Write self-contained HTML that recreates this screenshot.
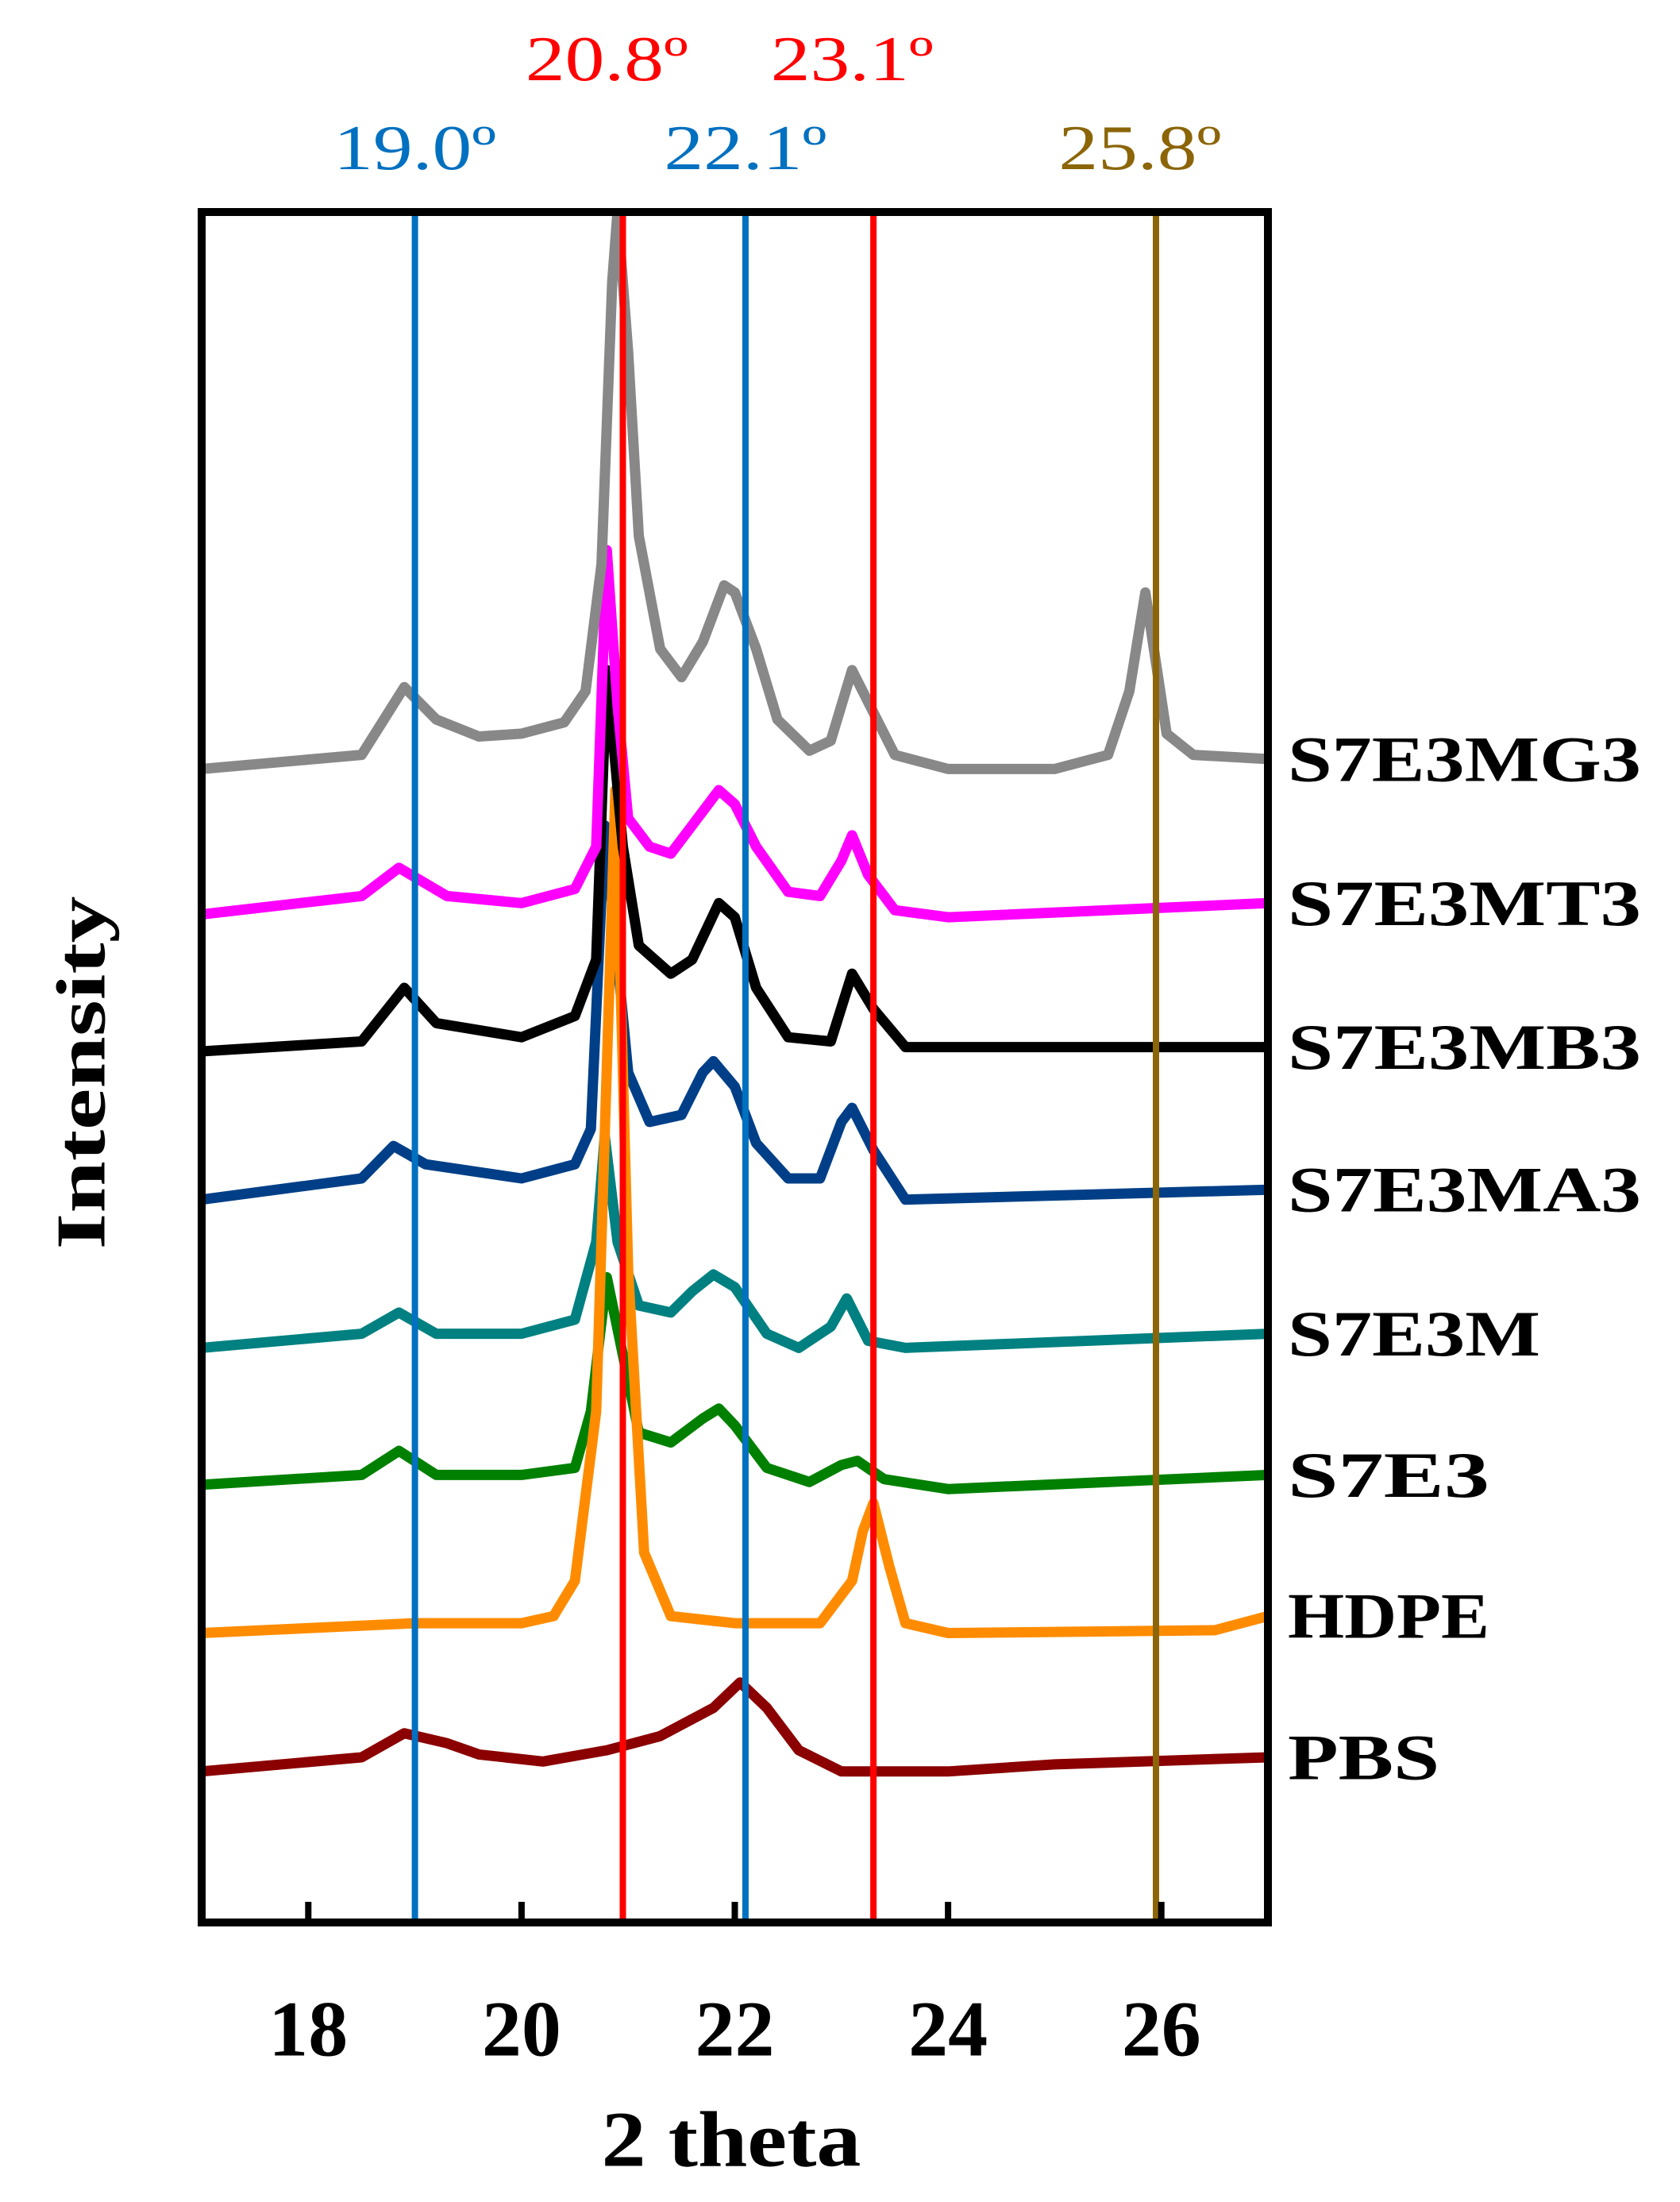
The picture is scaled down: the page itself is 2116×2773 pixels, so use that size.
<!DOCTYPE html>
<html><head><meta charset="utf-8"><style>
html,body{margin:0;padding:0;background:#fff;}
svg{display:block;}
svg text{font-family:"Liberation Serif","Times New Roman",serif;}
</style></head><body>
<svg id="chart" width="2116" height="2773" viewBox="0 0 2116 2773" xmlns="http://www.w3.org/2000/svg">
<defs><clipPath id="plotclip"><rect x="254" y="267" width="1343" height="2154"/></clipPath></defs>
<g id="series" clip-path="url(#plotclip)"></g>
<g id="refs"></g>
<rect x="254" y="267" width="1343" height="2154" fill="none" stroke="#000" stroke-width="10"/>
<g id="ticks"></g>
<g id="labels"></g>
<text x="921" y="2694" font-size="100" font-weight="bold" text-anchor="middle" dominant-baseline="central" textLength="327" lengthAdjust="spacingAndGlyphs">2 theta</text>
<text transform="translate(103,1351) rotate(-90)" font-size="88" font-weight="bold" text-anchor="middle" dominant-baseline="central" textLength="445" lengthAdjust="spacingAndGlyphs">Intensity</text>
</svg>
<script>
const NS='http://www.w3.org/2000/svg';
const xTicks=[18,20,22,24,26];
const refPositions=[19.0,20.95,22.1,23.3,25.95];
const refLabels=['19.0º','20.8º','22.1º','23.1º','25.8º'];
const refLabelPos=[19.0,20.8,22.1,23.1,25.8];
const refLabelRow=[1,0,1,0,1];
const refColors=['#0070c0','#ff0000','#0070c0','#ff0000','#8b6508'];

const pbsX=[17,18.5,18.9,19.3,19.6,20.2,20.8,21.3,21.8,22.05,22.3,22.6,23,24,25,27];
const pbsI=[107,117,134,127,119,114,122,132,152,170,152,122,107,107,112,117];
const hdpeX=[17,19,20,20.3,20.5,20.7,20.88,21.0,21.15,21.4,22,22.8,23.1,23.2,23.3,23.45,23.6,24,26.5,27];
const hdpeI=[205,212,212,217,242,362,802,462,262,217,212,212,242,277,297,252,212,205,207,217];
const s7e3X=[17,18.5,18.85,19.2,20,20.5,20.65,20.8,20.95,21.1,21.4,21.7,21.85,22.0,22.3,22.7,23.0,23.15,23.4,24,27];
const s7e3I=[310,317,334,317,317,322,362,457,402,347,340,357,364,352,322,312,324,327,314,307,317];
const s7e3mX=[17,18.5,18.85,19.2,20,20.5,20.7,20.78,20.9,21.1,21.4,21.6,21.8,22.0,22.3,22.6,22.9,23.05,23.25,23.6,27];
const s7e3mI=[407,417,432,417,417,427,482,557,482,437,432,447,459,450,417,407,422,442,412,407,417];
const ma3X=[17,18.5,18.8,19.1,20,20.5,20.65,20.78,21.0,21.2,21.5,21.7,21.8,22.0,22.2,22.5,22.8,23.0,23.1,23.3,23.6,27];
const ma3I=[512,527,550,537,527,537,562,777,602,567,572,602,610,592,552,527,527,567,577,547,512,519];
const mb3X=[17,18.5,18.9,19.2,20,20.5,20.7,20.8,20.95,21.1,21.4,21.6,21.85,22.0,22.2,22.5,22.9,23.1,23.3,23.6,27];
const mb3I=[617,624,662,637,627,642,682,887,762,692,672,682,722,712,662,627,624,672,647,620,620];
const mt3X=[17,18.5,18.85,19.3,20,20.5,20.7,20.8,20.9,21.0,21.2,21.4,21.6,21.85,22.0,22.2,22.5,22.8,23.0,23.1,23.25,23.5,24,27];
const mt3I=[714,727,747,727,722,732,762,972,862,782,762,757,777,802,792,762,730,727,752,770,742,717,712,722];
const mg3X=[17,18.5,18.9,19.2,19.6,20.0,20.4,20.6,20.75,20.85,20.9,21.0,21.1,21.3,21.5,21.7,21.9,22.0,22.2,22.4,22.7,22.9,23.1,23.3,23.5,24,25,25.5,25.7,25.85,25.95,26.05,26.3,27];
const mg3I=[817,827,875,852,840,842,850,872,962,1162,1212,1112,982,902,882,907,947,942,902,852,830,837,887,857,827,817,817,827,872,942,892,842,827,824];

const seriesNames=['PBS','S7E3','S7E3M','S7E3MA3','HDPE','S7E3MB3','S7E3MT3','S7E3MG3'];
const seriesX=[pbsX,s7e3X,s7e3mX,ma3X,hdpeX,mb3X,mt3X,mg3X];
const seriesI=[pbsI,s7e3I,s7e3mI,ma3I,hdpeI,mb3I,mt3I,mg3I];
const seriesColors=['#8b0000','#008000','#008080','#003f87','#ff8c00','#000000','#ff00ff','#888888'];
const labelNames=['S7E3MG3','S7E3MT3','S7E3MB3','S7E3MA3','S7E3M','S7E3','HDPE','PBS'];
const labelLevels=[824,722,620,519,417,317,217,117];

const xs=v=>254+(v-17)*134.3;
const ys=v=>2421-v*1.778;

const sg=document.getElementById('series');
for(let k=0;k<seriesNames.length;k++){
  const p=document.createElementNS(NS,'polyline');
  
  
  p.setAttribute('points',seriesX[k].map((x,i)=>xs(x).toFixed(1)+','+ys(seriesI[k][i]).toFixed(1)).join(' '));
  p.setAttribute('fill','none');p.setAttribute('stroke',seriesColors[k]);
  p.setAttribute('stroke-width','13');p.setAttribute('stroke-linejoin','round');
  sg.appendChild(p);
}
const rg=document.getElementById('refs');
for(let k=0;k<refPositions.length;k++){
  const l=document.createElementNS(NS,'line');
  
  
  l.setAttribute('x1',xs(refPositions[k]));l.setAttribute('x2',xs(refPositions[k]));
  l.setAttribute('y1',271);l.setAttribute('y2',2417);
  l.setAttribute('stroke',refColors[k]);l.setAttribute('stroke-width','8');
  rg.appendChild(l);
  const t=document.createElementNS(NS,'text');
  
  
  t.setAttribute('x',xs(refLabelPos[k]));t.setAttribute('y',refLabelRow[k]?187:75);
  t.setAttribute('font-size','80');t.setAttribute('text-anchor','middle');
  t.setAttribute('dominant-baseline','central');t.setAttribute('fill',refColors[k]);
  t.setAttribute('textLength','205');t.setAttribute('lengthAdjust','spacingAndGlyphs');
  t.textContent=refLabels[k];
  rg.appendChild(t);
}
const tg=document.getElementById('ticks');
for(const v of xTicks){
  const l=document.createElementNS(NS,'line');
  
  
  l.setAttribute('x1',xs(v));l.setAttribute('x2',xs(v));
  l.setAttribute('y1',2395);l.setAttribute('y2',2421);
  l.setAttribute('stroke','#000');l.setAttribute('stroke-width','8');
  tg.appendChild(l);
  const t=document.createElementNS(NS,'text');
  
  
  t.setAttribute('x',xs(v));t.setAttribute('y',2555);
  t.setAttribute('font-size','100');t.setAttribute('font-weight','bold');
  t.setAttribute('text-anchor','middle');t.setAttribute('dominant-baseline','central');
  t.textContent=v;
  tg.appendChild(t);
}
const lg=document.getElementById('labels');
for(let k=0;k<labelNames.length;k++){
  const t=document.createElementNS(NS,'text');
  
  
  t.setAttribute('x',1622);t.setAttribute('y',ys(labelLevels[k]));
  t.setAttribute('font-size','82');t.setAttribute('font-weight','bold');
  t.setAttribute('dominant-baseline','central');
  t.setAttribute('textLength',String(Math.round(labelNames[k].length*63.5)));
  t.setAttribute('lengthAdjust','spacingAndGlyphs');
  t.textContent=labelNames[k];
  lg.appendChild(t);
}
</script>
</body></html>
